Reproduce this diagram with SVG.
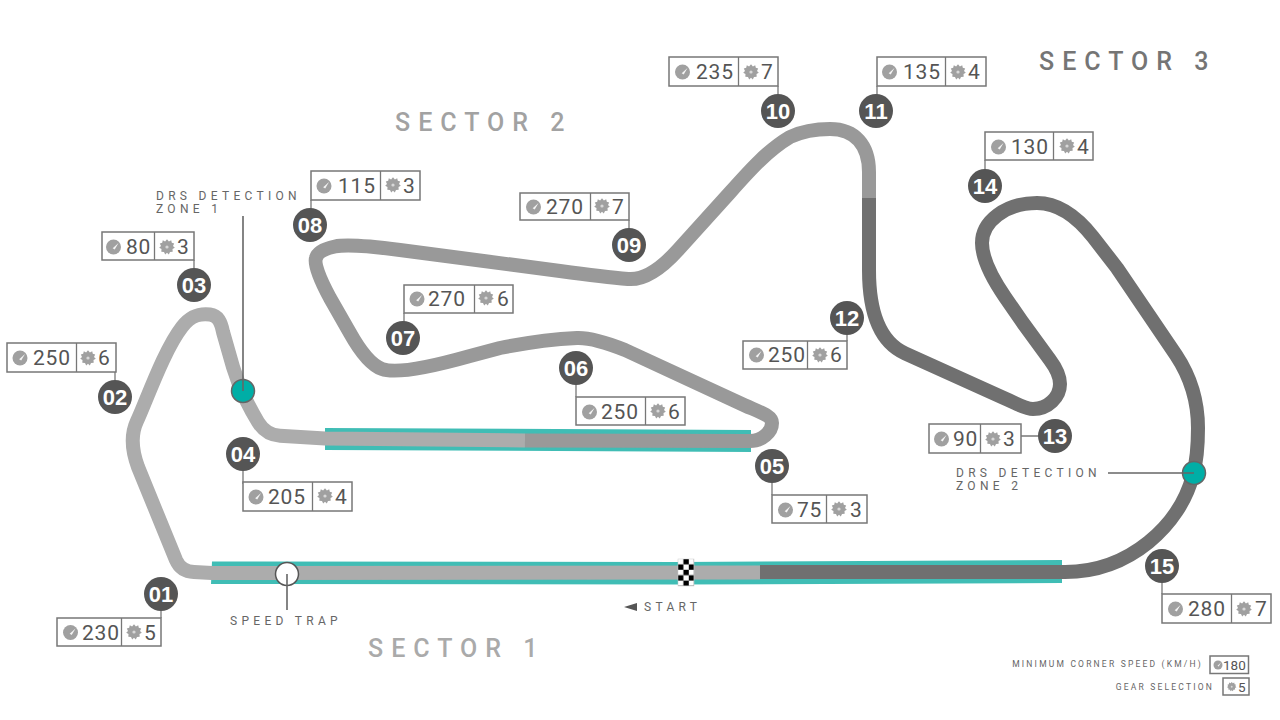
<svg xmlns="http://www.w3.org/2000/svg" width="1280" height="720" viewBox="0 0 1280 720">
<style>
.trk{fill:none;stroke-width:14;stroke-linejoin:round}
.box{fill:#fff;stroke:#777;stroke-width:1.5}
.div,.stem{stroke:#777;stroke-width:1.3;fill:none}
.val{font:400 21px Roboto,sans-serif;fill:#555;letter-spacing:.8px}
.bdg{fill:#555}
.num{font:700 22px "Liberation Sans",Arial,sans-serif;fill:#fff;text-anchor:middle}
.sec{font:500 25px Roboto,sans-serif;letter-spacing:8px}
.lab{font:400 12px Roboto,sans-serif;fill:#666;letter-spacing:4.3px}
.leg{font:400 8.5px Roboto,sans-serif;fill:#666;letter-spacing:2.2px;text-anchor:end}
.lv{font:400 13.500px Roboto,sans-serif;fill:#555}
.ptr{stroke:#666;stroke-width:1.6;fill:none}
</style>
<defs>
<g id="gauge"><circle r="7.5" fill="#a0a0a0"/><path d="M-0.8 1.2L5-4L1.2 2.4Z" fill="#f4f4f4"/></g>
<g id="gear"><path d="M0-7.8L1.9-5.6L4.2-6.8L4.8-4.2L7.2-3.4L6-1.1L7.8 0.8L5.5 2.1L5.7 4.8L3 5L1.8 7.4L0 5.8L-1.8 7.4L-3 5L-5.700 4.800L-5.500 2.100L-7.800 0.800L-6-1.100L-7.200-3.400L-4.800-4.200L-4.200-6.800L-1.900-5.600Z" fill="#a0a0a0"/><circle r="1.6" fill="#d8d8d8"/></g>
<pattern id="chk" width="10.800" height="10.800" patternUnits="userSpaceOnUse" x="678" y="559"><rect width="10.800" height="10.800" fill="#fff"/><rect width="5.400" height="5.400" x="5.400" fill="#000"/><rect width="5.400" height="5.400" y="5.400" fill="#000"/></pattern>
</defs>

<g id="drs-zones" fill="#40bdb5">
<path d="M325 428L751 430V452L325 450Z"/>
<path d="M212 561.500L680 562L1062 560V583L680 584.500L211 584Z"/>
</g>

<g id="connectors">
<path class="trk" stroke="#acacac" d="M760 572.500L212 573L194 572Q181 571.500 176 560L138 467Q128 440 137 421C146 402 164 350 182 327C192 314 202 313.500 210 314.500C218 315.500 221 322 223 332L233 367Q238 384 246 400Q252 412 258 422Q266 435 280 435.700L325 438.500L525 440.500"/>
<path class="trk" stroke="#999" d="M525 440.500L750 441C762 441 772 432 772 423C772 416 762 413 745 405.500L625 350C605 342 590 337.500 577 338C555 339 525 343 500 348L470 356Q400 375.700 382 369Q367 363.500 350 333L330 298Q313 266.500 316 258Q318 250 335 246.500Q350 243.500 400 250L560 271Q605 277 628 279Q650 281 678 250L730 192.500C750 170 768 150 790 137C805 130 818 129 830 129C855 129 869 145 869 172L869 198"/>
<path class="trk" stroke="#707070" d="M869 198L869 270Q869 337 905 353.300L1003 397.600C1018 404 1025 409 1033 409C1048 409 1060 397 1060 384C1060 375 1056 368 1050 360L1023 323L1005 297C990 275 982 258 982 243C982 222 1005 203 1037 203C1060 203 1078 218 1093 237L1117 268L1176 355C1190 376 1198 400 1198 428C1198 445 1197 460 1193 475C1180 525 1130 572 1065 572L760 572"/>
</g>

<g id="start-flag"><rect x="678" y="559" width="16" height="27" fill="url(#chk)" stroke="#ccc" stroke-width=".5"/></g>

<g id="drs1"><circle cx="243" cy="391" r="11.500" fill="#00aea6" stroke="#666" stroke-width="1.500"/><path class="ptr" d="M243 216V391"/><text class="lab" x="156" y="200">DRS DETECTION</text><text class="lab" x="156" y="213">ZONE 1</text></g>
<g id="drs2"><circle cx="1194" cy="473" r="11.500" fill="#00aea6" stroke="#666" stroke-width="1.500"/><path class="ptr" d="M1108 473H1194"/><text class="lab" x="956" y="477">DRS DETECTION</text><text class="lab" x="956" y="490">ZONE 2</text></g>
<g id="speedtrap"><circle cx="287" cy="574" r="11.500" fill="#fff" stroke="#555" stroke-width="1.500"/><path class="ptr" d="M287 574V610"/><text class="lab" x="230" y="625">SPEED TRAP</text></g>
<g id="start"><path d="M624 607L637 603V611Z" fill="#555"/><text class="lab" x="644" y="611">START</text></g>

<text class="sec" x="368" y="657" fill="#aaa">SECTOR 1</text>
<text class="sec" x="395" y="131" fill="#a2a2a2">SECTOR 2</text>
<text class="sec" x="1039" y="70" fill="#757575">SECTOR 3</text>

<g id="t01"><path class="stem" d="M161 594V618"/><rect class="box" x="57" y="618" width="104" height="28"/><path class="div" d="M121.500 618V646"/><use href="#gauge" x="70.500" y="632.500"/><text class="val" x="82" y="640">230</text><use href="#gear" x="134" y="632"/><text class="val" x="144" y="640">5</text><circle class="bdg" cx="161" cy="594" r="17"/><text class="num" x="161" y="601.500">01</text></g>
<g id="t02"><path class="stem" d="M115 372V397"/><rect class="box" x="7" y="343" width="109" height="29"/><path class="div" d="M76.500 343V372"/><use href="#gauge" x="20" y="358"/><text class="val" x="33" y="365">250</text><use href="#gear" x="88" y="358"/><text class="val" x="98" y="365">6</text><circle class="bdg" cx="115" cy="397" r="17"/><text class="num" x="115" y="404.500">02</text></g>
<g id="t03"><path class="stem" d="M194 260V285"/><rect class="box" x="102" y="232" width="92" height="28"/><path class="div" d="M154.500 232V260"/><use href="#gauge" x="113.500" y="247"/><text class="val" x="126" y="254">80</text><use href="#gear" x="167" y="247"/><text class="val" x="177" y="254">3</text><circle class="bdg" cx="194" cy="285" r="17"/><text class="num" x="194" y="292.500">03</text></g>
<g id="t04"><path class="stem" d="M243 454V484"/><rect class="box" x="243" y="482" width="109" height="29"/><path class="div" d="M312.500 482V511"/><use href="#gauge" x="256" y="497"/><text class="val" x="268" y="504">205</text><use href="#gear" x="325" y="496"/><text class="val" x="335" y="504">4</text><circle class="bdg" cx="243" cy="454" r="17"/><text class="num" x="243" y="461.500">04</text></g>
<g id="t05"><path class="stem" d="M772 466V495"/><rect class="box" x="772" y="495" width="95" height="28"/><path class="div" d="M826.500 495V523"/><use href="#gauge" x="785.500" y="510"/><text class="val" x="797" y="517">75</text><use href="#gear" x="839" y="509"/><text class="val" x="850" y="517">3</text><circle class="bdg" cx="772" cy="466" r="17"/><text class="num" x="772" y="473.500">05</text></g>
<g id="t06"><path class="stem" d="M576 368V397"/><rect class="box" x="576" y="397" width="109" height="28"/><path class="div" d="M645.500 397V425"/><use href="#gauge" x="589.500" y="412"/><text class="val" x="601" y="419">250</text><use href="#gear" x="658" y="411"/><text class="val" x="668" y="419">6</text><circle class="bdg" cx="576" cy="368" r="17"/><text class="num" x="576" y="375.500">06</text></g>
<g id="t07"><path class="stem" d="M404 313V338"/><rect class="box" x="404" y="285" width="109" height="28"/><path class="div" d="M474.500 285V313"/><use href="#gauge" x="417" y="299"/><text class="val" x="428" y="306">270</text><use href="#gear" x="486" y="298"/><text class="val" x="497" y="306">6</text><circle class="bdg" cx="403" cy="338" r="17"/><text class="num" x="403" y="345.500">07</text></g>
<g id="t08"><path class="stem" d="M311 200V225"/><rect class="box" x="311" y="171" width="109" height="29"/><path class="div" d="M380.500 171V200"/><use href="#gauge" x="324" y="186"/><text class="val" x="338" y="193">115</text><use href="#gear" x="393" y="185"/><text class="val" x="403" y="193">3</text><circle class="bdg" cx="310" cy="225" r="17"/><text class="num" x="310" y="232.500">08</text></g>
<g id="t09"><path class="stem" d="M629 220V245"/><rect class="box" x="520" y="193" width="109" height="27"/><path class="div" d="M590.500 193V220"/><use href="#gauge" x="533.500" y="207"/><text class="val" x="546" y="214">270</text><use href="#gear" x="602" y="206"/><text class="val" x="612" y="214">7</text><circle class="bdg" cx="629" cy="245" r="17"/><text class="num" x="629" y="252.500">09</text></g>
<g id="t10"><path class="stem" d="M778 86V111"/><rect class="box" x="669" y="57" width="109" height="29"/><path class="div" d="M738.500 57V86"/><use href="#gauge" x="682.500" y="72"/><text class="val" x="696" y="79">235</text><use href="#gear" x="751" y="72"/><text class="val" x="761" y="79">7</text><circle class="bdg" cx="778" cy="111" r="17"/><text class="num" x="778" y="118.500">10</text></g>
<g id="t11"><path class="stem" d="M877 86V111"/><rect class="box" x="877" y="57" width="109" height="29"/><path class="div" d="M945.500 57V86"/><use href="#gauge" x="889.500" y="72"/><text class="val" x="903" y="79">135</text><use href="#gear" x="958" y="72"/><text class="val" x="968" y="79">4</text><circle class="bdg" cx="876" cy="111" r="17"/><text class="num" x="876" y="118.500">11</text></g>
<g id="t12"><path class="stem" d="M847 318V341"/><rect class="box" x="743" y="341" width="104" height="28"/><path class="div" d="M807.500 341V369"/><use href="#gauge" x="756.500" y="355"/><text class="val" x="768" y="362">250</text><use href="#gear" x="820" y="355"/><text class="val" x="830" y="362">6</text><circle class="bdg" cx="847" cy="318" r="17"/><text class="num" x="847" y="325.500">12</text></g>
<g id="t13"><path class="stem" d="M1021 436H1055"/><rect class="box" x="929" y="424" width="92" height="29"/><path class="div" d="M980.500 424V453"/><use href="#gauge" x="941.500" y="439"/><text class="val" x="953" y="446">90</text><use href="#gear" x="993" y="439"/><text class="val" x="1003" y="446">3</text><circle class="bdg" cx="1055" cy="436" r="17"/><text class="num" x="1055" y="443.500">13</text></g>
<g id="t14"><path class="stem" d="M985 160V186"/><rect class="box" x="985" y="132" width="108" height="28"/><path class="div" d="M1053.500 132V160"/><use href="#gauge" x="998.500" y="147"/><text class="val" x="1011" y="154">130</text><use href="#gear" x="1067" y="146"/><text class="val" x="1077" y="154">4</text><circle class="bdg" cx="985" cy="186" r="17"/><text class="num" x="985" y="193.500">14</text></g>
<g id="t15"><path class="stem" d="M1162 566V594"/><rect class="box" x="1162" y="594" width="109" height="29"/><path class="div" d="M1231.500 594V623"/><use href="#gauge" x="1175.500" y="609"/><text class="val" x="1188" y="616">280</text><use href="#gear" x="1244" y="609"/><text class="val" x="1255" y="616">7</text><circle class="bdg" cx="1162" cy="566" r="17"/><text class="num" x="1162" y="573.500">15</text></g>

<g id="legend">
<text class="leg" x="1203" y="667">MINIMUM CORNER SPEED (KM/H)</text>
<rect class="box" x="1210" y="656" width="38.500" height="17.500"/><g transform="translate(1218 665) scale(.6)"><use href="#gauge"/></g><text class="lv" x="1223" y="670">180</text>
<text class="leg" x="1214" y="690">GEAR SELECTION</text>
<rect class="box" x="1223" y="678" width="26" height="17"/><g transform="translate(1231.700 686.700) scale(.6)"><use href="#gear"/></g><text class="lv" x="1238" y="692">5</text>
</g>
</svg>
